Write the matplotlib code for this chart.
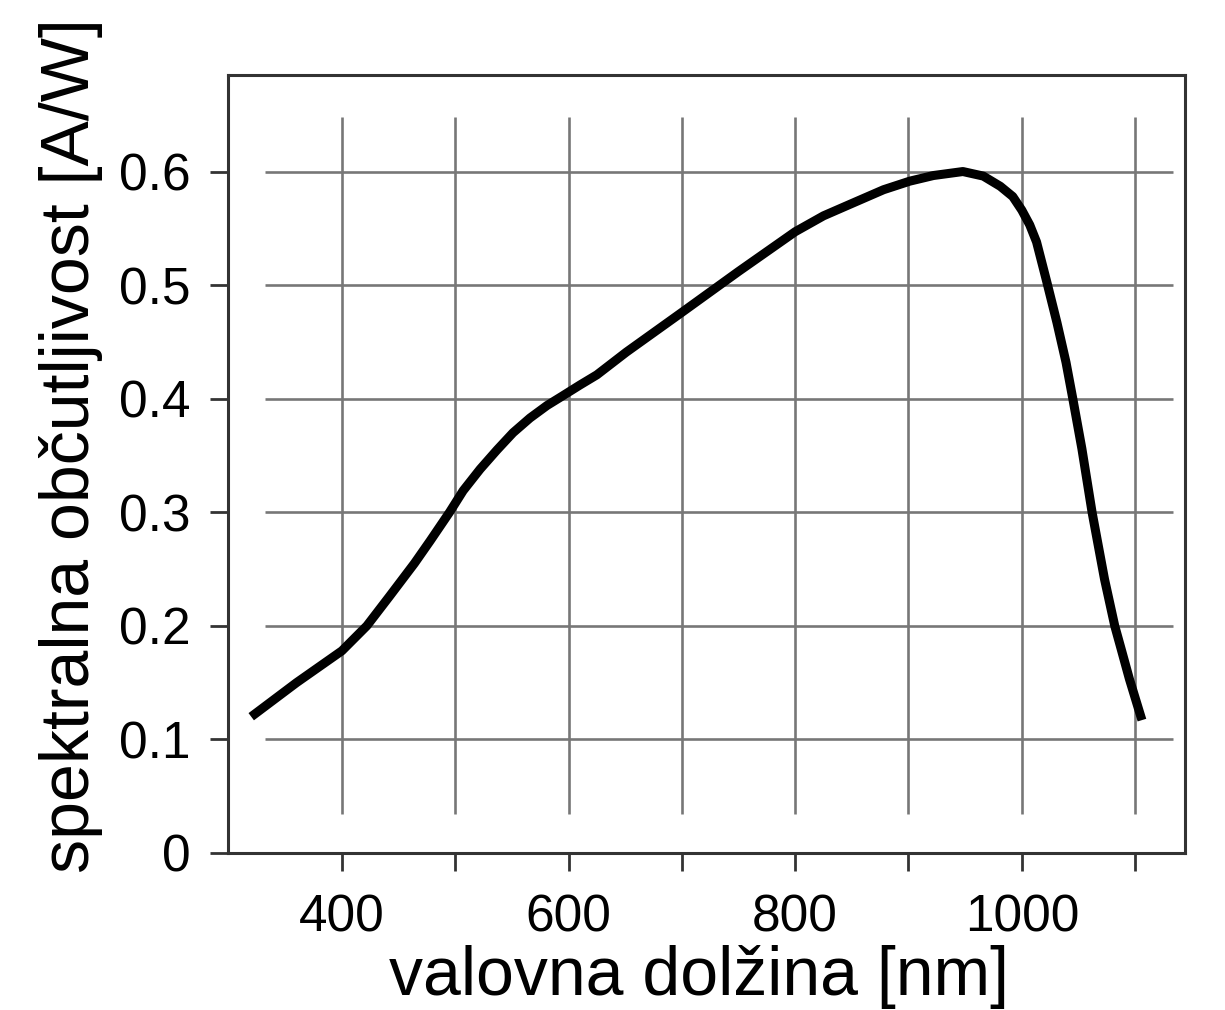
import numpy as np
from matplotlib import pyplot as plt
from matplotlib import rcParams

rcParams["font.family"] = ["Liberation Sans", "DejaVu Sans"]

wavelength = [320, 360, 400, 422, 442, 464, 478, 495, 507, 522, 537, 551, 566,
              581, 594, 610, 625, 651, 700, 750, 800, 825, 848, 878, 901, 922,
              948, 966, 981, 992, 1000, 1007, 1013, 1022, 1031, 1039, 1045,
              1053, 1062, 1073, 1082, 1087, 1095, 1106]
responsivity = [0.120, 0.150, 0.178, 0.200, 0.226, 0.255, 0.275, 0.300, 0.319,
                0.338, 0.355, 0.370, 0.383, 0.394, 0.402, 0.412, 0.421, 0.441,
                0.476, 0.512, 0.547, 0.561, 0.571, 0.584, 0.5915, 0.5965, 0.600,
                0.596, 0.587, 0.578, 0.566, 0.553, 0.538, 0.503, 0.467, 0.432,
                0.400, 0.356, 0.300, 0.241, 0.200, 0.182, 0.153, 0.117]

xticks = [400, 500, 600, 700, 800, 900, 1000, 1100]
xlabels = ["400", "", "600", "", "800", "", "1000", ""]
yticks = [0, 0.1, 0.2, 0.3, 0.4, 0.5, 0.6]
ylabels = ["0", "0.1", "0.2", "0.3", "0.4", "0.5", "0.6"]

fig = plt.figure(figsize=(12.25, 10.10), dpi=100)
ax = fig.add_axes([228 / 1225, 1 - 853 / 1010, (1185 - 228) / 1225, (853 - 75) / 1010])
ax.set_xlim(299.5, 1144)
ax.set_ylim(0, 0.685)

# partial grid like the original
gridc = "#777777"
ax.vlines(xticks, 0.034, 0.648, color=gridc, lw=1.9, zorder=1)
ax.hlines(yticks[1:], 332, 1133, color=gridc, lw=1.9, zorder=1)

ax.plot(wavelength, responsivity, color="black", lw=6.5,
        solid_joinstyle="round", solid_capstyle="butt", zorder=3)

ax.set_xticks(xticks, xlabels)
ax.set_yticks(yticks, ylabels)
ax.tick_params(direction="out", length=13, width=2, labelsize=37, color="#333333")
ax.tick_params(axis="x", pad=16)
ax.tick_params(axis="y", pad=14)
for sp in ax.spines.values():
    sp.set_linewidth(2.2)
    sp.set_color("#333333")

ax.set_xlabel("valovna dolžina [nm]", fontsize=49)
ax.set_ylabel("spektralna občutljivost [A/W]", fontsize=49)
ax.xaxis.set_label_coords(0.492, -0.118)
ax.yaxis.set_label_coords(-0.131, 0.524)

fig.savefig("out.png", dpi=100)
